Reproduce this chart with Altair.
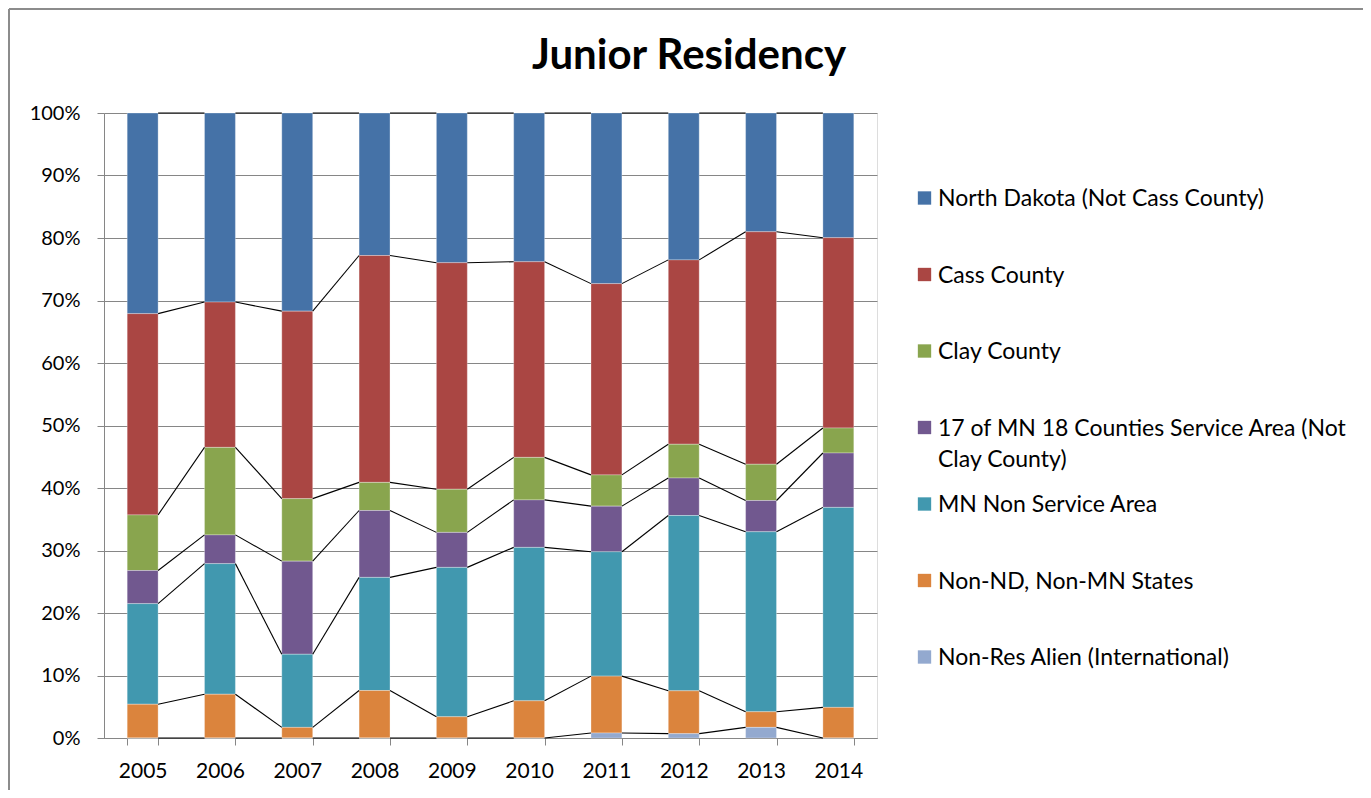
import altair as alt
import pandas as pd

years = ["2005", "2006", "2007", "2008", "2009", "2010", "2011", "2012", "2013", "2014"]

series_names = [
    "North Dakota (Not Cass County)",
    "Cass County",
    "Clay County",
    "17 of MN 18 Counties Service Area (Not Clay County)",
    "MN Non Service Area",
    "Non-ND, Non-MN States",
    "Non-Res Alien (International)",
]
legend_labels = [
    "North Dakota (Not Cass County)",
    "Cass County",
    "Clay County",
    "17 of MN 18 Counties Service Area (Not\nClay County)",
    "MN Non Service Area",
    "Non-ND, Non-MN States",
    "Non-Res Alien (International)",
]
series_colors = ["#4572A7", "#AA4643", "#89A54E", "#71588F", "#4198AF", "#DB843D", "#93A9CF"]

# percentages per year
north_dakota = [32.1, 30.25, 31.7, 22.8, 23.95, 23.8, 27.3, 23.5, 19.0, 19.95]
cass_county = [32.2, 23.25, 30.0, 36.3, 36.25, 31.3, 30.6, 29.5, 37.2, 30.45]
clay_county = [8.9, 14.0, 10.0, 4.5, 6.9, 6.8, 5.0, 5.4, 5.8, 4.0]
mn_service_area = [5.3, 4.6, 14.9, 10.7, 5.6, 7.6, 7.3, 6.0, 5.0, 8.7]
mn_non_service = [16.1, 20.9, 11.7, 18.1, 23.9, 24.55, 19.9, 28.05, 28.8, 32.0]
other_states = [5.4, 7.0, 1.7, 7.6, 3.4, 5.95, 9.1, 6.85, 2.5, 4.9]
international = [0.0, 0.0, 0.0, 0.0, 0.0, 0.0, 0.8, 0.7, 1.7, 0.0]

series_values = [north_dakota, cass_county, clay_county, mn_service_area,
                 mn_non_service, other_states, international]

# bar table
rows = []
for s_idx, (name, vals) in enumerate(zip(series_names, series_values)):
    for y, v in zip(years, vals):
        rows.append({"year": y, "series": name, "value": v, "stack_order": len(series_names) - s_idx})
bars_df = pd.DataFrame(rows)

# series lines (Excel style) between cumulative tops of consecutive bars
bottom_up = list(reversed(series_values))
totals = [sum(sv[i] for sv in series_values) for i in range(len(years))]
cums = []
run = [0.0] * len(years)
for vals in bottom_up:
    run = [r + v for r, v in zip(run, vals)]
    cums.append(list(run))
line_rows = []
for k, cum in enumerate(cums):
    for i in range(len(years) - 1):
        line_rows.append({
            "year": years[i], "year_next": years[i + 1],
            "y0": cum[i] / totals[i], "y1": cum[i + 1] / totals[i + 1],
        })
lines_df = pd.DataFrame(line_rows)

legend_df = pd.DataFrame({"series": series_names, "label": legend_labels})

FONT = "Lato"
GRAY = "#868686"

color_scale = alt.Scale(domain=series_names, range=series_colors)
x_scale = alt.Scale(paddingInner=0.6, paddingOuter=0.3)
y_scale = alt.Scale(domain=[0, 1])

bars = alt.Chart(bars_df).mark_bar(stroke="white", strokeWidth=0.6, strokeOpacity=0.5).encode(
    x=alt.X("year:N", sort=years, scale=x_scale,
            axis=alt.Axis(title=None, labelAngle=0, tickBand="extent", labelFont=FONT,
                          labelFontSize=21, labelColor="black", labelPadding=15,
                          tickSize=7, tickColor=GRAY, domainColor=GRAY, grid=False)),
    y=alt.Y("value:Q", stack="normalize", scale=y_scale,
            axis=alt.Axis(title=None, values=[i / 10 for i in range(11)], format=".0%",
                          labelFont=FONT, labelFontSize=20, labelColor="black",
                          labelPadding=17, tickSize=7, tickColor=GRAY, domainColor=GRAY,
                          grid=True, gridColor=GRAY, gridWidth=1)),
    color=alt.Color("series:N", scale=color_scale, legend=None),
    order=alt.Order("stack_order:Q", sort="ascending"),
)

half_bar = 773 / 10 * 0.4 / 2
series_lines = alt.Chart(lines_df).mark_rule(color="black", strokeWidth=1.1,
                                             xOffset=half_bar, x2Offset=-half_bar).encode(
    x=alt.X("year:N", sort=years, scale=x_scale),
    x2="year_next:N",
    y=alt.Y("y0:Q", scale=y_scale),
    y2="y1:Q",
)

main = alt.layer(bars, series_lines)

legend_y = alt.Y("series:N", sort=series_names,
                 scale=alt.Scale(type="point", range=[85, 544], padding=0), axis=None)
legend_squares = alt.Chart(legend_df).mark_square(size=178, opacity=1).encode(
    x=alt.value(820.5),
    y=legend_y,
    color=alt.Color("series:N", scale=color_scale, legend=None),
)
legend_text = alt.Chart(legend_df).mark_text(
    align="left", baseline="alphabetic", dy=8, font=FONT, fontSize=23,
    color="black", lineBreak="\n", lineHeight=31,
).encode(
    x=alt.value(834),
    y=legend_y,
    text="label:N",
)
legend = alt.layer(legend_squares, legend_text)

title_df = pd.DataFrame({"title": ["Junior Residency"]})
title = alt.Chart(title_df).mark_text(
    font=FONT, fontSize=42, fontWeight="bold", align="center", baseline="alphabetic", color="black"
).encode(x=alt.value(585), y=alt.value(-44), text="title:N")

frame_df = pd.DataFrame({"k": [0]})
frame_top = alt.Chart(frame_df).mark_rule(color="#8c8c8c", strokeWidth=2).encode(
    x=alt.value(-95), x2=alt.value(1260), y=alt.value(-104))
frame_left = alt.Chart(frame_df).mark_rule(color="#8c8c8c", strokeWidth=2).encode(
    x=alt.value(-95), y=alt.value(-104), y2=alt.value(700))

chart = alt.layer(main, legend, title, frame_top, frame_left).resolve_scale(
    y="independent"
).properties(
    width=773, height=625,
    autosize=alt.AutoSizeParams(type="none"),
    padding={"left": 96, "top": 105, "right": 486, "bottom": 52},
).configure_view(stroke=None).configure(background="white")

chart.save("out.html", embed_options={"renderer": "svg", "actions": False})
